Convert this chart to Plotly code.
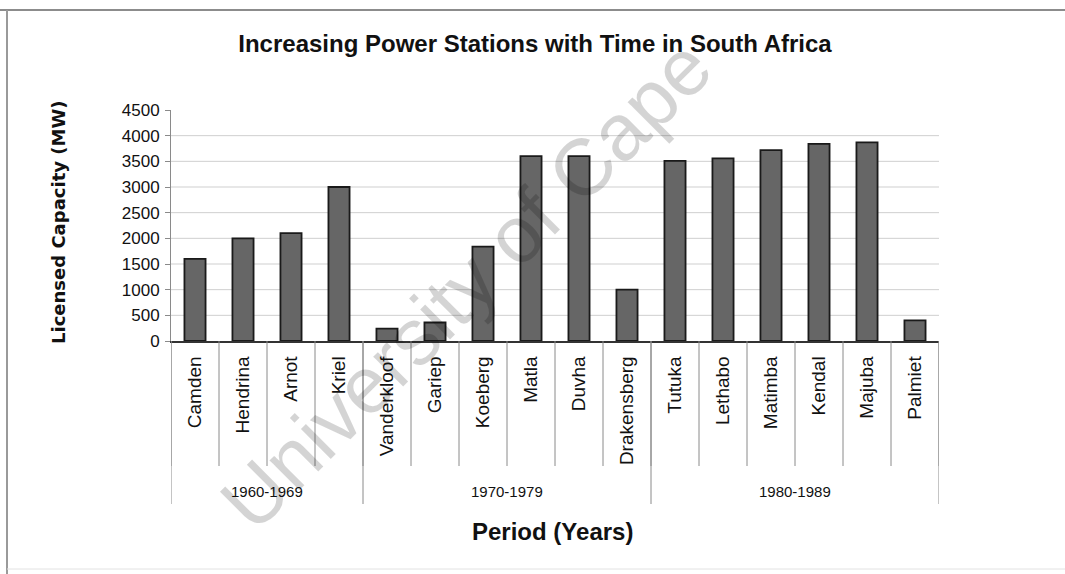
import plotly.graph_objects as go

# Licensed capacity of Eskom power stations, grouped by commissioning decade
stations = ["Camden", "Hendrina", "Arnot", "Kriel",
            "Vanderkloof", "Gariep", "Koeberg", "Matla", "Duvha", "Drakensberg",
            "Tutuka", "Lethabo", "Matimba", "Kendal", "Majuba", "Palmiet"]
capacity_mw = [1600, 2000, 2100, 3000,
               240, 360, 1840, 3600, 3600, 1000,
               3510, 3558, 3720, 3840, 3870, 400]
periods = ["1960-1969", "1970-1979", "1980-1989"]
stations_per_period = [4, 6, 6]
y_ticks = [0, 500, 1000, 1500, 2000, 2500, 3000, 3500, 4000, 4500]

W, H = 1065, 574
L, R, T, B = 171, 939, 110, 341   # plot area in pixels


def px_x(p):
    return (p - L) / (R - L)


def px_y(p):
    return (B - p) / (B - T)


FONT = "Liberation Sans, Arial, sans-serif"
INK = "#111"

fig = go.Figure(go.Bar(
    x=stations,
    y=capacity_mw,
    width=0.44,
    marker=dict(color="#666666", line=dict(color="#1a1a1a", width=1.8)),
    hoverinfo="x+y",
))

shapes = []
# horizontal gridlines (none at the top of the value axis)
for v in y_ticks[1:-1]:
    shapes.append(dict(type="line", xref="paper", yref="y", x0=0, x1=1, y0=v, y1=v,
                       line=dict(color="#cfcfcf", width=1), layer="below"))

# separators between station labels
for i in range(len(stations) + 1):
    shapes.append(dict(type="line", xref="x", yref="paper", x0=i - 0.5, x1=i - 0.5,
                       y0=0, y1=px_y(466), line=dict(color="#8a8a8a", width=1)))

# longer separators between decades, plus decade labels
annotations = []
bounds = [0]
for n in stations_per_period:
    bounds.append(bounds[-1] + n)
for b in bounds:
    shapes.append(dict(type="line", xref="x", yref="paper", x0=b - 0.5, x1=b - 0.5,
                       y0=0, y1=px_y(504), line=dict(color="#8a8a8a", width=1)))
for name, a, b in zip(periods, bounds[:-1], bounds[1:]):
    annotations.append(dict(text=name, xref="x", yref="paper",
                            x=(a + b - 1) / 2, y=px_y(491), showarrow=False,
                            xanchor="center", yanchor="middle",
                            font=dict(family=FONT, size=15, color=INK)))

# page frame: strong top and left edges, faint bottom edge
shapes += [
    dict(type="line", xref="paper", yref="paper", x0=px_x(0), x1=px_x(1065),
         y0=px_y(10), y1=px_y(10), line=dict(color="#8c8c8c", width=2)),
    dict(type="line", xref="paper", yref="paper", x0=px_x(7), x1=px_x(7),
         y0=px_y(10), y1=px_y(574), line=dict(color="#9a9a9a", width=2)),
    dict(type="line", xref="paper", yref="paper", x0=px_x(7), x1=px_x(1065),
         y0=px_y(569), y1=px_y(569), line=dict(color="#e2e2e2", width=1)),
]

annotations += [
    dict(text="<b>Licensed Capacity (MW)</b>", xref="paper", yref="paper",
         x=px_x(58), y=px_y(223), textangle=-90, showarrow=False,
         xanchor="center", yanchor="middle",
         font=dict(family="DejaVu Sans, Verdana, sans-serif", size=18, color=INK)),
    dict(text="<b>Period (Years)</b>", xref="paper", yref="paper",
         x=px_x(552), y=px_y(531), showarrow=False,
         xanchor="center", yanchor="middle",
         font=dict(family=FONT, size=24, color=INK)),
    dict(text="University of Cape", xref="paper", yref="paper",
         x=px_x(466), y=px_y(284), textangle=-45, showarrow=False,
         xanchor="center", yanchor="middle",
         font=dict(family=FONT, size=80, color="rgba(0,0,0,0.17)")),
]

fig.update_layout(
    width=W, height=H,
    margin=dict(l=L, r=W - R, t=T, b=H - B, autoexpand=False),
    paper_bgcolor="white", plot_bgcolor="white",
    showlegend=False,
    title=dict(text="<b>Increasing Power Stations with Time in South Africa</b>",
               x=535 / W, xanchor="center", y=1 - 44 / H, yanchor="middle",
               font=dict(family=FONT, size=24, color=INK)),
    shapes=shapes,
    annotations=annotations,
)

fig.update_xaxes(
    type="category", range=[-0.5, len(stations) - 0.5],
    showline=True, linecolor="#333", linewidth=1.5,
    ticks="", tickangle=-90, showgrid=False, automargin=False,
    ticklabelstandoff=6,
    tickfont=dict(family=FONT, size=19, color=INK),
)
fig.update_yaxes(
    range=[0, 4500], tickvals=y_ticks,
    showline=True, linecolor="#8a8a8a", linewidth=1,
    ticks="outside", ticklen=5, tickcolor="#8a8a8a",
    showgrid=False, zeroline=False, automargin=False,
    ticklabelstandoff=2,
    tickfont=dict(family=FONT, size=17, color=INK),
)

fig.write_html("out.html")
